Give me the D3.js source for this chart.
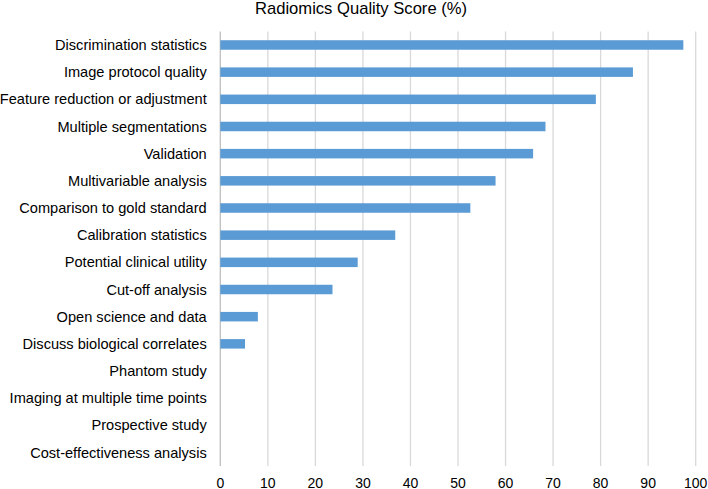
<!DOCTYPE html>
<html><head><meta charset="utf-8">
<script src="https://cdn.jsdelivr.net/npm/d3@7"></script>
<style>body{margin:0;background:#fff;} text{font-family:"Liberation Sans",Arial,sans-serif;fill:#000;}</style>
</head><body>
<svg id="c" width="708" height="489"></svg>
<script>
const categories = ["Discrimination statistics","Image protocol quality","Feature reduction or adjustment","Multiple segmentations","Validation","Multivariable analysis","Comparison to gold standard","Calibration statistics","Potential clinical utility","Cut-off analysis","Open science and data","Discuss biological correlates","Phantom study","Imaging at multiple time points","Prospective study","Cost-effectiveness analysis"];
const values = [97.4,86.8,79.0,68.4,65.8,57.9,52.6,36.8,28.9,23.6,7.9,5.2,0,0,0,0];
const xTicks = [0,10,20,30,40,50,60,70,80,90,100];
const title = "Radiomics Quality Score (%)";

const svg = d3.select("#c");
const x = d3.scaleLinear().domain([0,100]).range([220.3,695.7]);
const y = d3.scaleBand().domain(categories).range([31.4,466.1]).paddingInner(0.65).paddingOuter(0.325);

svg.append("g").selectAll("line").data(xTicks).join("line")
  .attr("x1",d=>x(d)).attr("x2",d=>x(d)).attr("y1",31.4).attr("y2",466)
  .attr("stroke",d=>d===0?"#bfbfbf":"#d9d9d9").attr("stroke-width",1.3);

svg.append("g").selectAll("rect").data(values).join("rect")
  .attr("x",x(0)).attr("y",(d,i)=>y(categories[i]))
  .attr("width",d=>x(d)-x(0)).attr("height",y.bandwidth())
  .attr("fill","#5b9bd5");

svg.append("g").selectAll("text").data(categories).join("text")
  .attr("x",206.7).attr("y",d=>y(d)+y.bandwidth()/2).attr("dy","0.35em")
  .attr("text-anchor","end").attr("font-size","14.6px").text(d=>d);

svg.append("g").selectAll("text").data(xTicks).join("text")
  .attr("x",d=>x(d)).attr("y",487.5).attr("text-anchor","middle")
  .attr("font-size","14px").text(d=>d);

svg.append("text").attr("x",361).attr("y",13.6).attr("text-anchor","middle")
  .attr("font-size","16.6px").text(title);
</script>
</body></html>
